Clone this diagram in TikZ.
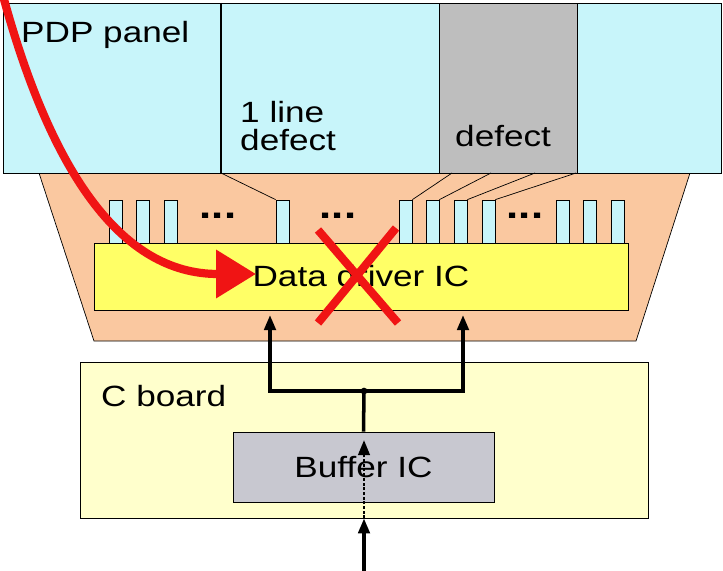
\documentclass[tikz,border=0pt]{standalone}
\usepackage{fontspec}
\setmainfont{Liberation Sans}
\usepackage{graphicx}
\usetikzlibrary{arrows.meta}
\definecolor{panelcyan}{RGB}{200,245,250}
\definecolor{defectgray}{RGB}{190,190,190}
\definecolor{padorange}{RGB}{250,200,160}
\definecolor{drvyellow}{RGB}{255,255,102}
\definecolor{boardyellow}{RGB}{255,255,204}
\definecolor{bufgray}{RGB}{200,200,208}
\definecolor{markred}{RGB}{240,20,20}
\newcommand\hwide[1]{\scalebox{1.2}[1]{#1}}
\begin{document}
\begin{tikzpicture}[x=0.3mm, y=-0.3mm, every node/.style={font=\fontsize{25}{30}\selectfont},
  blk/.style={draw,line width=0.6pt,inner sep=0pt}, pin/.style={blk,fill=panelcyan,minimum width=3.9mm,minimum height=12.9mm},
  barr/.style={-{Triangle[length=4.5mm,width=3.4mm]},line width=3pt,line join=miter}, redline/.style={line width=7pt,markred}]
  \useasboundingbox (0,0) rectangle (723,571);
  % driver board trapezoid and panel
  \draw[line width=0.6pt,fill=padorange] (39,173) -- (690,173) -- (636,341) -- (94,341) -- cycle;
  \node[blk,fill=panelcyan,minimum width=215.4mm,minimum height=51mm] (panel) at (362,88) {};
  \node[blk,fill=defectgray,minimum width=41.4mm,minimum height=51mm] (defect) at (508,88) {};
  \draw[line width=2.5pt] (221,3) -- (221,173);
  \node[anchor=base west,inner sep=0] (pdp) at (21,43) {\hwide{PDP panel}};
  \node[anchor=north west,inner sep=0,align=left,font=\fontsize{25}{24}\selectfont] (linedef) at (240,101) {\hwide{1 line}\\\hwide{defect}};
  \node[anchor=base west,inner sep=0] (deflbl) at (455,146) {\hwide{defect}};
  % pins
  \foreach \px in {109,136,164,276,399,426,454,482,556,583,611}
    \node[pin] (pin\px) at (\px+6.5,221.5) {};
  \foreach \dx in {218,338,525}
    \node[anchor=base,inner sep=0,font=\fontsize{31}{31}\selectfont] (dots\dx) at (\dx,218) {\hwide{\textbf{...}}};
  \draw[line width=0.6pt] (221,173) -- (pin276.north west);
  \foreach \gx/\pp in {452/399,491/426,535/454,576/482}
    \draw[line width=0.6pt] (\gx,173) -- (pin\pp.north east);
  \node[blk,fill=drvyellow,minimum width=160.2mm,minimum height=20.1mm] (driver) at (361,276.5) {\hwide{Data driver IC}};
  % C board
  \node[blk,fill=boardyellow,minimum width=170.4mm,minimum height=46.8mm] (board) at (364,440) {};
  \node[anchor=base west,inner sep=0] (cbl) at (101,406) {\hwide{C board}};
  \node[blk,fill=bufgray,minimum width=78.3mm,minimum height=21mm] (buffer) at (363.5,467) {\hwide{Buffer IC}};
  \coordinate (jn) at (364,391);
  \coordinate (inL) at (270,315);
  \coordinate (inR) at (463,315);
  \coordinate (src) at (364,571);
  \coordinate (bufin) at (364,440);
  \draw[line width=3pt] (buffer.north) -- (jn);
  \draw[barr] (jn) -| (inL);
  \draw[barr] (jn) -| (inR);
  \fill (jn) circle (1mm);
  \draw[barr] (src) -- (board.south);
  \draw[barr,line width=2.5pt,dash pattern=on 2.5pt off 1.5pt] (board.south) -- (bufin);
  % red marks
  \draw[redline] (318,230) -- (398,323) (396,228) -- (318,323);
  \coordinate (redsrc) at (2,-8);
  \coordinate (redtip) at (256,274);
  \draw[redline,-{Triangle[length=12mm,width=14mm]}] (redsrc) .. controls (50,170) and (120,274) .. (redtip);
\end{tikzpicture}
\end{document}
